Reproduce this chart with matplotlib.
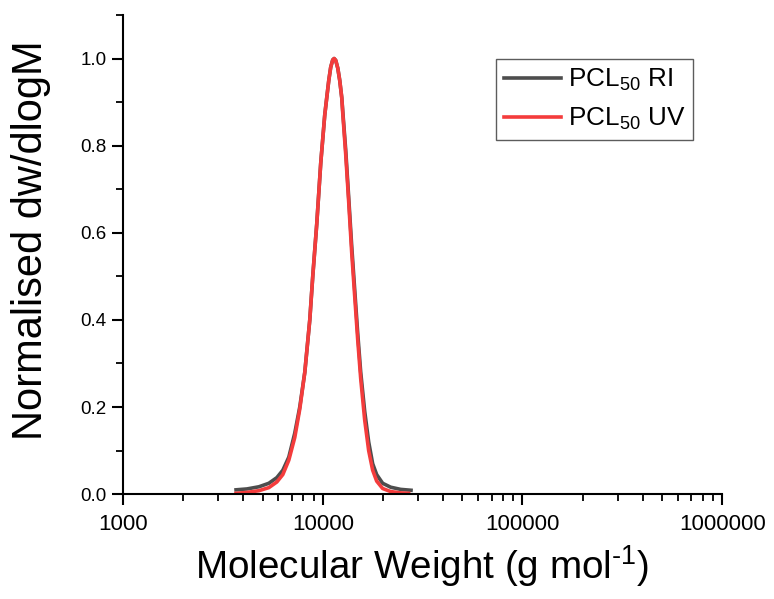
import matplotlib
matplotlib.use("Agg")
import matplotlib.pyplot as plt
from matplotlib.ticker import LogLocator, MultipleLocator, FixedLocator, NullFormatter

plt.rcParams['font.family'] = ['Liberation Sans', 'DejaVu Sans']
plt.rcParams['mathtext.fontset'] = 'custom'
plt.rcParams['mathtext.rm'] = 'Liberation Sans'
plt.rcParams['mathtext.it'] = 'Liberation Sans:italic'

# molecular weight (g/mol) and normalised dw/dlogM
mw_ri = [3680, 4170, 4790, 5370, 5890, 6310, 6760, 7240, 7670, 8130,
         8610, 8910, 9330, 9770, 10230, 10470, 10720, 10960, 11220, 11400,
         11610, 11890, 12160, 12450, 12590, 13030, 13490, 13960, 14450, 14960,
         15490, 16220, 16980, 17780, 18620, 19950, 21880, 24550, 27670]
ri = [0.010, 0.012, 0.017, 0.025, 0.038, 0.055, 0.085, 0.14, 0.20, 0.28,
      0.40, 0.50, 0.62, 0.76, 0.87, 0.91, 0.95, 0.98, 0.997, 1.00,
      0.996, 0.978, 0.95, 0.91, 0.88, 0.79, 0.68, 0.57, 0.47, 0.37,
      0.28, 0.19, 0.12, 0.07, 0.045, 0.025, 0.016, 0.011, 0.009]

mw_uv = [3680, 4170, 4790, 5370, 5890, 6310, 6760, 7240, 7670, 8130,
         8610, 8910, 9330, 9770, 10230, 10470, 10720, 10960, 11220, 11400,
         11610, 11890, 12160, 12450, 12590, 13030, 13490, 13960, 14450, 14960,
         15490, 16220, 16980, 17780, 18620, 19950, 21880, 24550, 26920]
uv = [0.002, 0.004, 0.008, 0.015, 0.028, 0.045, 0.078, 0.13, 0.195, 0.28,
      0.40, 0.50, 0.62, 0.76, 0.87, 0.91, 0.95, 0.98, 0.997, 1.00,
      0.996, 0.978, 0.95, 0.91, 0.875, 0.78, 0.67, 0.555, 0.455, 0.355,
      0.265, 0.17, 0.10, 0.055, 0.03, 0.013, 0.006, 0.003, 0.002]

x_ticks = [1000, 10000, 100000, 1000000]
x_labels = ["1000", "10000", "100000", "1000000"]

fig = plt.figure(figsize=(7.74, 5.99), dpi=100)
ax = fig.add_axes([0.159, 0.175, 0.774, 0.80])

ax.plot(mw_ri, ri, color='#4d4d4d', lw=2.6, label='PCL$_{50}$ RI')
ax.plot(mw_uv, uv, color='#f43c3c', lw=2.6, label='PCL$_{50}$ UV')

ax.set_xscale('log')
ax.set_xlim(1000, 1000000)
ax.set_ylim(0, 1.1)
ax.xaxis.set_major_locator(FixedLocator(x_ticks))
ax.set_xticklabels(x_labels)
ax.xaxis.set_minor_locator(LogLocator(base=10, subs=range(2, 10)))
ax.xaxis.set_minor_formatter(NullFormatter())
ax.yaxis.set_major_locator(MultipleLocator(0.2))
ax.yaxis.set_minor_locator(MultipleLocator(0.1))
ax.yaxis.set_major_formatter(plt.FuncFormatter(lambda v, p: f"{v:.1f}"))

for s in ['top', 'right']:
    ax.spines[s].set_visible(False)
for s in ['left', 'bottom']:
    ax.spines[s].set_linewidth(1.5)

ax.tick_params(which='major', direction='out', length=8, width=1.5)
ax.tick_params(which='minor', direction='out', length=5, width=1.3)
ax.tick_params(axis='x', labelsize=16, pad=6)
ax.tick_params(axis='y', labelsize=13.5, pad=4)

ax.set_xlabel(r'Molecular Weight (g mol$^{\text{-1}}$)', fontsize=27.8, labelpad=6)
ax.set_ylabel('Normalised dw/dlogM', fontsize=30)
ax.yaxis.set_label_coords(-0.12, 0.53)

leg = ax.legend(loc='upper right', bbox_to_anchor=(0.952, 0.908),
                fontsize=18.8, frameon=True, fancybox=False, edgecolor='#333333',
                handlelength=2.2, handletextpad=0.27, borderpad=0.3,
                labelspacing=0.5, borderaxespad=0)
leg.get_frame().set_linewidth(1.0)

fig.savefig('out.png', dpi=100)
